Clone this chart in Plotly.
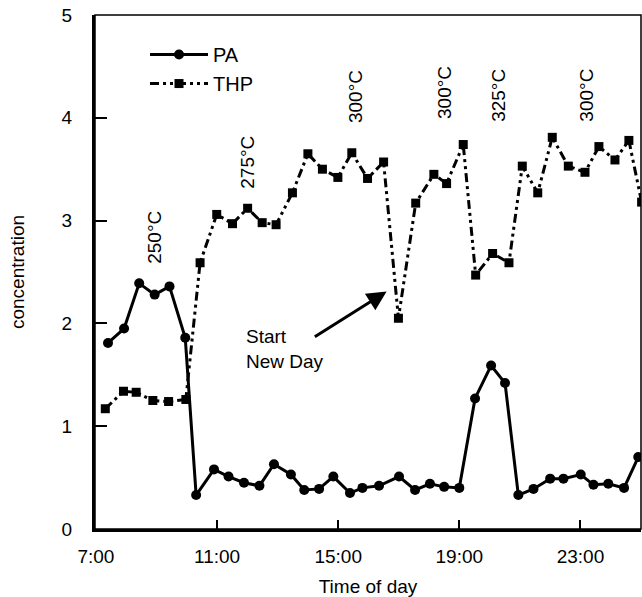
import plotly.graph_objects as go

# Data (hours of day, concentration)
pa_time = [7.40, 7.93, 8.43, 8.94, 9.43, 9.95, 10.31, 10.90, 11.38, 11.89, 12.40, 12.88,
           13.44, 13.88, 14.37, 14.84, 15.39, 15.80, 16.35, 17.01, 17.54, 18.03, 18.50, 19.00,
           19.52, 20.05, 20.51, 20.95, 21.45, 22.00, 22.44, 23.01, 23.43, 23.92, 24.44, 24.91]
pa_conc = [1.81, 1.95, 2.39, 2.28, 2.36, 1.86, 0.33, 0.58, 0.51, 0.45, 0.42, 0.63,
           0.53, 0.38, 0.39, 0.51, 0.35, 0.40, 0.42, 0.51, 0.38, 0.44, 0.41, 0.40,
           1.27, 1.59, 1.42, 0.33, 0.39, 0.49, 0.49, 0.53, 0.43, 0.44, 0.40, 0.70]

thp_time = [7.31, 7.91, 8.33, 8.88, 9.40, 9.97, 10.44, 10.99, 11.51, 12.01, 12.49, 12.95,
            13.49, 14.00, 14.48, 14.99, 15.45, 15.97, 16.50, 16.99, 17.56, 18.16, 18.58, 19.13,
            19.54, 20.10, 20.64, 21.08, 21.59, 22.07, 22.60, 23.15, 23.61, 24.14, 24.60, 25.02]
thp_conc = [1.17, 1.34, 1.33, 1.25, 1.24, 1.26, 2.59, 3.06, 2.97, 3.12, 2.98, 2.96,
            3.27, 3.65, 3.50, 3.42, 3.66, 3.41, 3.57, 2.05, 3.17, 3.45, 3.36, 3.74,
            2.47, 2.68, 2.59, 3.53, 3.27, 3.81, 3.53, 3.47, 3.72, 3.59, 3.78, 3.18]

tick_vals = [7, 11, 15, 19, 23]
tick_text = ["7:00", "11:00", "15:00", "19:00", "23:00"]

temp_labels = ["250°C", "275°C", "300°C", "300°C", "325°C", "300°C"]
temp_x = [8.91, 11.98, 15.55, 18.49, 20.30, 23.20]
temp_y = [2.84, 3.57, 4.21, 4.25, 4.22, 4.22]

FONT = "Liberation Sans, Arial, Helvetica, sans-serif"
FS = 19

fig = go.Figure()
fig.add_trace(go.Scatter(
    x=pa_time, y=pa_conc, name="PA", mode="lines+markers",
    line=dict(color="black", width=3),
    marker=dict(symbol="circle", size=10, color="black"),
))
fig.add_trace(go.Scatter(
    x=thp_time, y=thp_conc, name="THP", mode="lines+markers",
    line=dict(color="black", width=3, dash="9px,4px,3px,4px,3px,4px"),
    marker=dict(symbol="square", size=9, color="black"),
))

annotations = []
for t, x, y in zip(temp_labels, temp_x, temp_y):
    annotations.append(dict(x=x, y=y, xref="x", yref="y", text=t, showarrow=False,
                            textangle=-90, font=dict(size=FS, color="black", family=FONT)))

annotations.append(dict(x=11.88, y=1.75, xref="x", yref="y", text="Start<br>New Day",
                        showarrow=False, xanchor="left", align="left",
                        font=dict(size=FS, color="black", family=FONT)))
annotations.append(dict(x=16.60, y=2.31, xref="x", yref="y", ax=14.18, ay=1.86,
                        axref="x", ayref="y", text="", showarrow=True,
                        arrowhead=2, arrowsize=1.3, arrowwidth=3, arrowcolor="black"))

fig.update_layout(
    width=642, height=597,
    margin=dict(l=95, r=1, t=15, b=68),
    paper_bgcolor="white", plot_bgcolor="white",
    font=dict(family=FONT, size=FS, color="black"),
    showlegend=True,
    legend=dict(x=0.0916, y=0.961, xanchor="left", yanchor="top",
                bgcolor="rgba(0,0,0,0)", font=dict(size=20, family=FONT),
                itemwidth=58, tracegroupgap=4),
    annotations=annotations,
    shapes=[dict(type="rect", xref="paper", yref="paper", x0=0, x1=1, y0=0, y1=1,
                 line=dict(color="black", width=1.5), layer="above")],
)

fig.update_xaxes(
    range=[6.97, 25.0], tickvals=tick_vals, ticktext=tick_text,
    showgrid=False, zeroline=False, showline=True, linecolor="black", linewidth=3,
    ticks="inside", ticklen=9, tickwidth=1.5, tickcolor="black",
    ticklabelstandoff=8,
    title=dict(text="Time of day", font=dict(size=FS), standoff=14),
)
fig.update_yaxes(
    range=[0, 5], tickvals=[0, 1, 2, 3, 4, 5],
    showgrid=False, zeroline=False, showline=True, linecolor="black", linewidth=3,
    ticks="inside", ticklen=12, tickwidth=2, tickcolor="black",
    ticklabelstandoff=16,
    title=dict(text="concentration", font=dict(size=FS), standoff=32),
)

fig.write_html("out.html")
